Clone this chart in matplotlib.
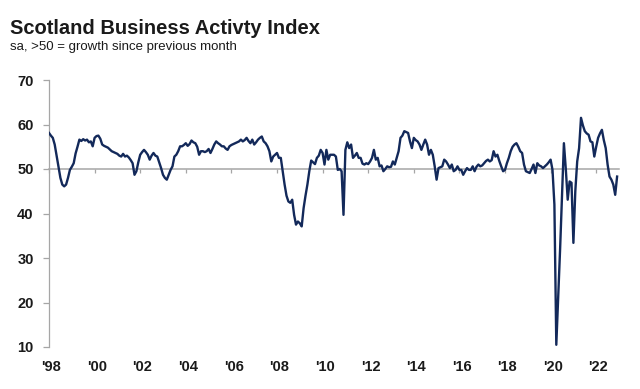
import numpy as np
import matplotlib.pyplot as plt

plt.rcParams['font.family'] = ['Liberation Sans', 'DejaVu Sans']

# monthly index, Jan 1998 .. Dec 2022
start_year = 1998
activity = [
    58.1, 57.5, 57.0, 55.5, 53.0, 50.5, 48.0, 46.5, 46.1, 46.5, 48.0, 49.8,  # 1998
    50.5, 51.3, 53.5, 55.0, 56.6, 56.3, 56.7, 56.4, 56.6, 56.0, 56.2, 55.1,  # 1999
    57.0, 57.4, 57.5, 56.8, 55.5, 55.2, 55.0, 54.8, 54.4, 54.0, 53.8, 53.6,  # 2000
    53.4, 53.0, 52.8, 53.4, 52.8, 53.0, 52.6, 52.0, 51.3, 48.7, 49.5, 51.5,  # 2001
    53.2, 53.8, 54.3, 53.8, 53.2, 52.1, 53.0, 53.6, 53.0, 52.8, 51.5, 50.2,  # 2002
    48.7, 48.0, 47.6, 48.7, 49.8, 50.6, 52.8, 53.2, 54.0, 55.1, 55.1, 55.4,  # 2003
    55.8, 55.2, 55.6, 56.4, 56.0, 55.8, 55.0, 53.2, 54.0, 54.0, 53.8, 54.0,  # 2004
    54.5, 53.6, 54.5, 55.5, 56.2, 55.8, 55.5, 55.1, 55.1, 54.6, 54.3, 55.1,  # 2005
    55.4, 55.6, 55.8, 56.0, 56.2, 56.6, 56.2, 56.5, 57.0, 56.3, 55.8, 56.6,  # 2006
    55.5, 56.0, 56.6, 57.0, 57.3, 56.2, 55.8, 55.1, 54.0, 51.7, 52.8, 53.2,  # 2007
    53.6, 52.5, 52.5, 49.5, 46.5, 44.0, 42.7, 42.4, 43.1, 39.7, 37.5, 38.2,  # 2008
    37.8, 37.1, 41.2, 44.0, 46.5, 49.5, 51.9, 51.5, 51.1, 52.5, 53.0, 54.3,  # 2009
    53.6, 51.0, 54.3, 52.1, 53.2, 53.2, 53.2, 52.8, 49.8, 50.0, 49.5, 39.7,  # 2010
    54.3, 56.0, 54.7, 55.5, 52.5, 53.0, 53.6, 52.5, 52.5, 51.2, 51.0, 51.3,  # 2011
    51.1, 51.7, 52.5, 54.3, 52.1, 52.5, 50.6, 50.8, 49.5, 50.0, 50.6, 50.4,  # 2012
    50.5, 51.7, 51.0, 52.5, 54.0, 57.0, 57.5, 58.5, 58.3, 58.1, 56.2, 54.7,  # 2013
    57.0, 56.5, 56.2, 55.5, 54.3, 55.5, 56.6, 55.5, 53.2, 54.3, 53.2, 50.6,  # 2014
    47.6, 50.2, 50.4, 50.6, 52.1, 51.7, 51.0, 50.2, 51.0, 49.5, 49.8, 50.6,  # 2015
    49.8, 49.8, 48.7, 49.5, 50.2, 49.8, 49.8, 50.6, 49.5, 50.5, 51.0, 50.6,  # 2016
    50.8, 51.3, 51.8, 52.1, 51.7, 52.0, 54.0, 52.8, 53.2, 51.8, 50.6, 49.5,  # 2017
    49.8, 51.3, 52.5, 54.0, 55.0, 55.5, 55.8, 55.0, 54.0, 53.6, 51.0, 49.5,  # 2018
    49.3, 49.1, 50.0, 51.0, 49.1, 51.3, 50.8, 50.6, 50.2, 50.6, 51.0, 51.5,  # 2019
    52.1, 49.8, 42.0, 10.5, 21.0, 32.0, 44.0, 55.8, 50.0, 43.1, 47.2, 46.9,  # 2020
    33.4, 45.0, 51.7, 54.7, 61.5, 59.8, 58.5, 58.0, 57.7, 56.2, 56.0, 52.8,  # 2021
    55.0, 57.0, 58.0, 58.8, 56.5, 54.7, 51.0, 48.3, 47.6, 46.5, 44.2, 48.3,  # 2022
]
tick_years = [1998, 2000, 2002, 2004, 2006, 2008, 2010, 2012, 2014, 2016, 2018, 2020, 2022]
tick_labels = ["'98", "'00", "'02", "'04", "'06", "'08", "'10", "'12", "'14", "'16", "'18", "'20", "'22"]
y_ticks = [10, 20, 30, 40, 50, 60, 70]

gray = '#a6a6a6'
dark = '#1a1a1a'

fig = plt.figure(figsize=(6.4, 3.89), dpi=100)
ax = fig.add_axes([49 / 640, 1 - 347 / 389, (619 - 49) / 640, (347 - 80) / 389])

t = start_year + np.arange(len(activity)) / 12
ax.plot(t, activity, color='#13295a', lw=1.7, zorder=3, solid_joinstyle='round')

ax.set_xlim(1998, 2023)
ax.set_ylim(10, 70)
ax.set_yticks(y_ticks)

for s in ['top', 'right']:
    ax.spines[s].set_visible(False)
ax.spines['left'].set_color(gray)
ax.spines['left'].set_linewidth(0.9)
ax.spines['bottom'].set_position(('data', 50))
ax.spines['bottom'].set_color(gray)
ax.spines['bottom'].set_linewidth(1.1)

ax.set_xticks(tick_years)
ax.tick_params(axis='x', length=3, width=0.9, color=gray, labelbottom=False)
ax.tick_params(axis='y', length=4, width=0.9, color=gray, pad=7,
               labelsize=10.5, labelcolor=dark)
for lab in ax.get_yticklabels():
    lab.set_fontweight('bold')

for yr, lab in zip(tick_years, tick_labels):
    ax.text(yr + 0.1, -0.075, lab, transform=ax.get_xaxis_transform(),
            ha='center', va='center', fontsize=10.5, fontweight='bold', color=dark)

fig.text(10 / 640, 1 - 29 / 389, "Scotland Business Activty Index",
         fontsize=14.5, fontweight='bold', va='center', color=dark)
fig.text(10 / 640, 1 - 47 / 389, "sa, >50 = growth since previous month",
         fontsize=9.5, va='center', color=dark)

fig.savefig('out.png', dpi=100)
